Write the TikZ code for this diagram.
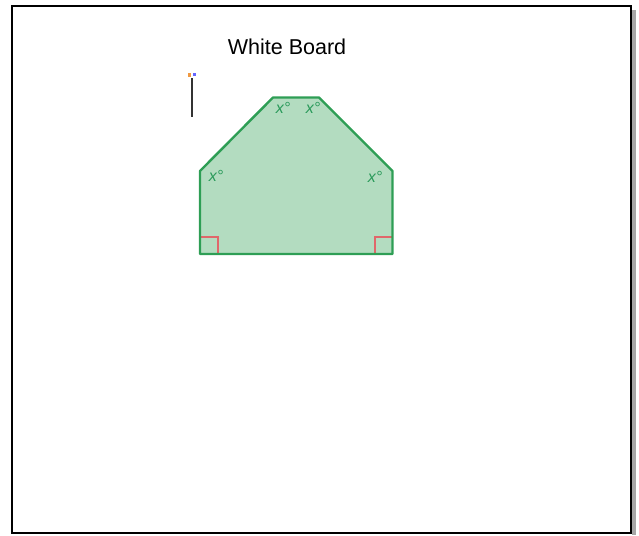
\documentclass[tikz,border=0pt]{standalone}
\usepackage{fontspec}
\setmainfont{Liberation Sans}
\usepackage{xcolor}
\usetikzlibrary{calc}
\definecolor{shapefill}{HTML}{B3DCC0}
\definecolor{shapeline}{HTML}{2E9E55}
\definecolor{anglered}{HTML}{E0676A}
\definecolor{labelgreen}{HTML}{2A9A5A}

\begin{document}
\begin{tikzpicture}[x=1pt, y=-1pt,
    angle/.style={text=labelgreen, font=\fontsize{16}{16}\selectfont\itshape, inner sep=0pt},
    rightmark/.style={draw=anglered, line width=2pt}]
      \useasboundingbox (0, 0) rectangle (639, 535);
      % board frame with shadow
      \fill[gray!70] (632, 10) rectangle (636, 535);
      \draw[line width=2.5pt] (12, 6) rectangle (631, 533);
      \node[font=\fontsize{21.5}{25}\selectfont] (title) at (287, 47) {White Board};

      % marker
      \draw[line width=1.6pt, black!80] (192, 78) -- (192, 117);
      \fill[orange!70!brown!80] (188, 73) rectangle (191, 77);
      \fill[blue!60] (193, 73) rectangle (196, 76);

      % hexagon vertices
      \coordinate (a) at (200, 254);
      \coordinate (b) at (200, 171);
      \coordinate (c) at (273, 97.5);
      \coordinate (d) at (319, 97.5);
      \coordinate (e) at (392.5, 171);
      \coordinate (f) at (392.5, 254);

      \fill[shapefill] (a) -- (b) -- (c) -- (d) -- (e) -- (f) -- cycle;
      \draw[rightmark] (200, 237) -- (218, 237) -- (218, 254);
      \draw[rightmark] (392.5, 237) -- (375, 237) -- (375, 254);
      \draw[shapeline, line width=2.4pt, line join=round] (a) -- (b) -- (c) -- (d) -- (e) -- (f) -- cycle;

      \node[angle] (xb) at (216, 176) {x°};
      \node[angle] (xc) at (283, 108) {x°};
      \node[angle] (xd) at (313, 108) {x°};
      \node[angle] (xe) at (375, 177) {x°};
    \end{tikzpicture}
\end{document}
